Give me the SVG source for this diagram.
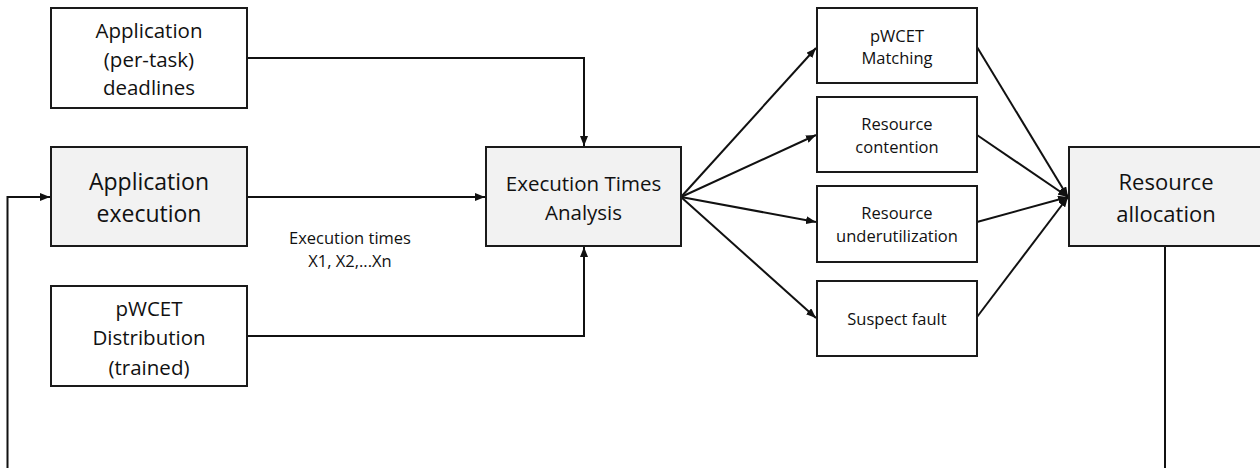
<svg xmlns="http://www.w3.org/2000/svg" width="1260" height="468" viewBox="0 0 1260 468">
  <defs>
    <marker id="arrow" viewBox="0 0 10 8" refX="10" refY="4" markerWidth="10" markerHeight="8" markerUnits="userSpaceOnUse" orient="auto">
      <path d="M0,0 L10,4 L0,8 Z" fill="#111"/>
    </marker>
  </defs>
  <style>
    .box { fill: #ffffff; stroke: #1a1a1a; stroke-width: 2; }
    .hl { fill: #f2f2f2; stroke: #1a1a1a; stroke-width: 2; }
    .t { font-family: "Open Sans", "Noto Sans", sans-serif; fill: #111; text-anchor: middle; }
    .edge { fill: none; stroke: #111; stroke-width: 2; }
    .arr { marker-end: url(#arrow); }
  </style>

  <!-- connectors -->
  <g id="connectors">
    <path class="edge arr" d="M247,58 H584 V146"/>
    <path class="edge arr" d="M247,197 H485"/>
    <path class="edge arr" d="M247,336 H584 V247"/>
    <path class="edge arr" d="M681,197 L816,48"/>
    <path class="edge arr" d="M681,197 L816,135"/>
    <path class="edge arr" d="M681,197 L816,222"/>
    <path class="edge arr" d="M681,197 L816,318"/>
    <path class="edge arr" d="M977,47 L1068,197"/>
    <path class="edge arr" d="M977,135 L1068,197"/>
    <path class="edge arr" d="M977,222 L1068,197"/>
    <path class="edge arr" d="M977,317 L1068,197"/>
    <path class="edge" d="M1165,247 V470"/>
    <path class="edge arr" d="M7.5,470 V197 H50"/>
    <text class="t" x="350" y="244" font-size="16.5">Execution times</text>
    <text class="t" x="350" y="267" font-size="16.5">X1, X2,...Xn</text>
  </g>

  <g id="deadlines">
    <rect class="box" x="51" y="8" width="196" height="100"/>
    <text class="t" x="149" y="38" font-size="20.5">Application</text>
    <text class="t" x="149" y="66.5" font-size="20.5">(per-task)</text>
    <text class="t" x="149" y="95" font-size="20.5">deadlines</text>
  </g>

  <g id="app-exec">
    <rect class="hl" x="51" y="147" width="196" height="99"/>
    <text class="t" x="149" y="190" font-size="23">Application</text>
    <text class="t" x="149" y="221.5" font-size="23">execution</text>
  </g>

  <g id="pwcet-dist">
    <rect class="box" x="51" y="286" width="196" height="100"/>
    <text class="t" x="149" y="316" font-size="20.5">pWCET</text>
    <text class="t" x="149" y="345.3" font-size="20.5">Distribution</text>
    <text class="t" x="149" y="374.5" font-size="20.5">(trained)</text>
  </g>

  <g id="eta">
    <rect class="hl" x="486" y="147" width="195" height="99"/>
    <text class="t" x="583.5" y="190.7" font-size="20.5">Execution Times</text>
    <text class="t" x="583.5" y="219.5" font-size="20.5">Analysis</text>
  </g>

  <g id="pwcet-match">
    <rect class="box" x="817" y="8" width="160" height="75"/>
    <text class="t" x="897" y="41.5" font-size="16.5">pWCET</text>
    <text class="t" x="897" y="64" font-size="16.5">Matching</text>
  </g>

  <g id="contention">
    <rect class="box" x="817" y="97" width="160" height="75"/>
    <text class="t" x="897" y="130" font-size="16.5">Resource</text>
    <text class="t" x="897" y="152.7" font-size="16.5">contention</text>
  </g>

  <g id="underutil">
    <rect class="box" x="817" y="186" width="160" height="76"/>
    <text class="t" x="897" y="219" font-size="16.5">Resource</text>
    <text class="t" x="897" y="242.3" font-size="16.5">underutilization</text>
  </g>

  <g id="fault">
    <rect class="box" x="817" y="281" width="160" height="75"/>
    <text class="t" x="897" y="325" font-size="16.5">Suspect fault</text>
  </g>

  <g id="allocation">
    <rect class="hl" x="1069" y="147" width="200" height="99"/>
    <text class="t" x="1166" y="190" font-size="22">Resource</text>
    <text class="t" x="1166" y="221.7" font-size="22">allocation</text>
  </g>
</svg>
